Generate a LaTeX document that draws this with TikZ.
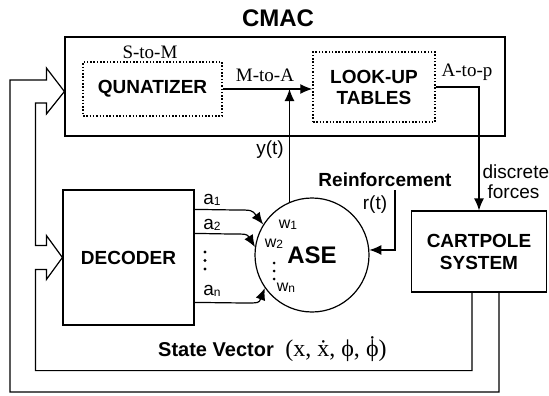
\documentclass[tikz,border=0pt]{standalone}
\usepackage{fontspec}
\setmainfont{Liberation Serif}
\setsansfont{Liberation Sans}
\usetikzlibrary{arrows.meta,calc}

\tikzset{
  blk/.style={draw, line width=1.2pt, inner sep=0pt},
  dotbox/.style={draw, line width=1.5pt, dash pattern=on 1.5pt off 1.8pt, inner sep=0pt},
  hd/.style={font=\sffamily\bfseries\fontsize{19}{21}\selectfont, align=center, inner sep=0pt},
  sl/.style={font=\sffamily\fontsize{19}{21}\selectfont, inner sep=0pt},
  wl/.style={font=\sffamily\fontsize{16}{18}\selectfont, inner sep=0pt},
  rl/.style={font=\rmfamily\fontsize{19}{21}\selectfont, inner sep=0pt},
  arr/.style={-{Latex[length=12pt,width=10pt]}},
}
\newcommand{\idx}[1]{\raisebox{-1pt}{\fontsize{12}{12}\selectfont #1}}
\newcommand{\tdot}[1]{\accent"02D9 #1}

\begin{document}
\begin{tikzpicture}[x=1pt, y=-1pt, line width=1.2pt]
\useasboundingbox (0,0) rectangle (549,396);

% CMAC block
\node[hd, font=\sffamily\bfseries\fontsize{24}{26}\selectfont] (title) at (278,18) {CMAC};
\node[blk, minimum width=440pt, minimum height=99pt] (cmac) at (285,86.5) {};
\node[dotbox, hd, minimum width=139pt, minimum height=54pt] (qz) at (152.5,89) {QUNATIZER};
\node[dotbox, hd, minimum width=122pt, minimum height=70pt] (lut) at (374,87) {LOOK-UP\\TABLES};
\node[rl] (stm) at (150,52) {S-to-M};
\node[rl] (mta) at (265,75) {M-to-A};
\node[rl] (atp) at (467,72) {A-to-p};

% plant, decoder, ASE
\node[blk, hd, minimum width=135pt, minimum height=81pt, font=\sffamily\bfseries\fontsize{19}{22}\selectfont] (cart) at (479,251.5) {CARTPOLE\\SYSTEM};
\node[blk, hd, minimum width=131pt, minimum height=135pt] (dec) at (128.5,257.5) {DECODER};
\node[blk, circle, minimum size=114pt, font=\sffamily\bfseries\fontsize{24}{26}\selectfont] (ase) at (312,255) {ASE};

% labels
\node[sl] (yt) at (270,150) {y(t)};
\node[sl, anchor=west] (dsc) at (482,172) {discrete};
\node[sl, anchor=west] (frc) at (487,192) {forces};
\node[hd] (rein) at (385,180) {Reinforcement};
\node[sl] (rtl) at (375,205) {r(t)};
\node[sl] (la1) at (212,200) {a\idx{1}};
\node[sl] (la2) at (212,225) {a\idx{2}};
\node[sl] (lan) at (212,291) {a\idx{n}};
\node[wl] (lw1) at (288,225) {w\idx{1}};
\node[wl] (lw2) at (274,244) {w\idx{2}};
\node[wl] (lwn) at (286,288) {w\idx{n}};
\node[hd, font=\sffamily\bfseries\fontsize{20}{22}\selectfont] (sv) at (216,350) {State Vector};
\node[rl, font=\rmfamily\fontsize{24}{26}\selectfont] (svec) at (336,349) {(x, \tdot{x}, ϕ, \tdot{ϕ})};

\foreach \y in {252,260.5,269} \fill (205,\y) circle (1.6pt);
\foreach \y in {263,271,279} \fill (274,\y) circle (1.5pt);

% signal paths
\draw[arr] (qz.east) -- (qz.east -| lut.west);
\draw[arr] (lut.east) -| (cart.north);
\draw[arr] (ase.113) -- (ase.113 |- qz.east);
\coordinate (rt) at (395,190);
\draw[arr] (rt) |- (ase.5);
\draw[arr] ($(dec.north east)+(0,20)$) -- (236,210) .. controls (252,210) .. (ase.148);
\draw[arr] ($(dec.north east)+(0,44)$) -- (230,234) .. controls (247,234) .. (ase.172);
\draw[arr] ($(dec.north east)+(0,113)$) -- (244,303) .. controls (259,303) .. (ase.215);

% state feedback with hollow arrows
\coordinate (tc) at ($(cmac.west)+(0,5)$);
\coordinate (td) at (dec.west);
\coordinate (s1) at ($(cart.south)+(-7,0)$);
\coordinate (s2) at ($(cart.south)+(20,0)$);
\draw (s2) |- (10,392) |- ($(tc)+(-18,-11.5)$) -- ++(0,-12) -- (tc) -- ++(-18,22.5) -- ++(0,-11) -- ++(-11,0)
  |- ($(td)+(-16,-12)$) -- ++(0,-10) -- (td) -- ++(-16,22) -- ++(0,-10) -- ++(-11,0)
  |- ($(s1)+(0,78)$) -- (s1);
\end{tikzpicture}
\end{document}
